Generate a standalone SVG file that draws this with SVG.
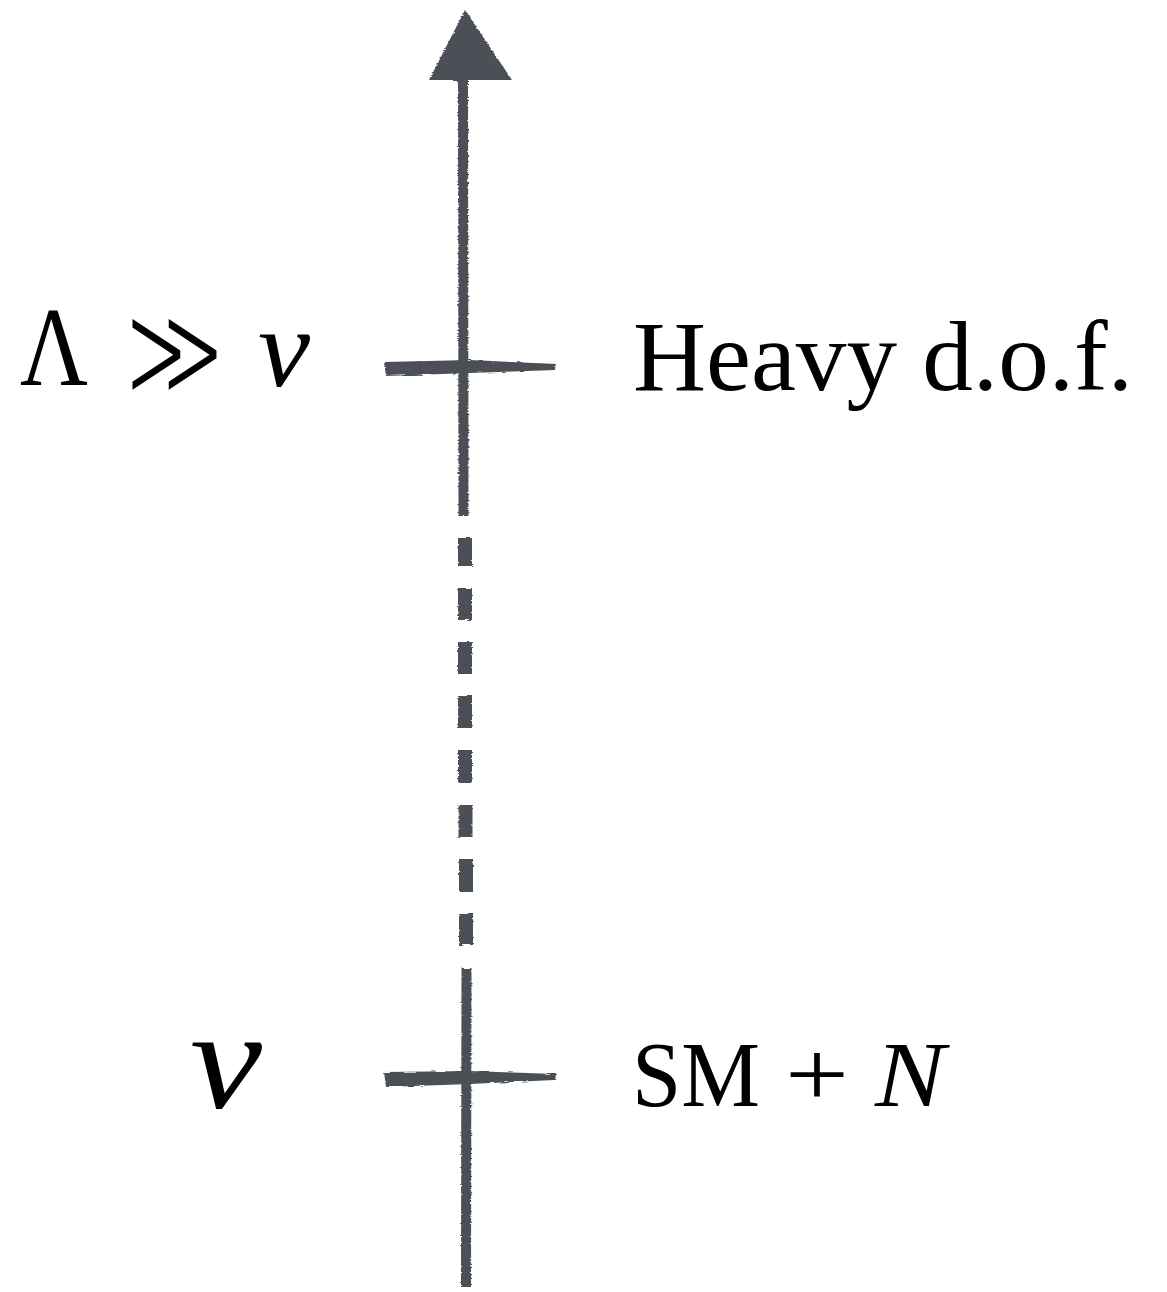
<svg xmlns="http://www.w3.org/2000/svg" width="1167" height="1292" viewBox="0 0 1167 1292">
  <style>
    .ink { fill: #4b5057; }
    .stk { stroke: #4b5057; fill: none; stroke-linecap: butt; }
    .rm { font-family: "Liberation Serif", "DejaVu Serif", serif; fill: #000; }
    .it { font-family: "Liberation Serif", "DejaVu Serif", serif; font-style: italic; fill: #000; }
    .rel { font-family: "DejaVu Serif", "DejaVu Sans", serif; fill: #000; stroke: #fff; stroke-width: 4; paint-order: fill; }
  </style>
  <defs>
    <filter id="rough" x="-20%" y="-5%" width="140%" height="110%">
      <feTurbulence type="fractalNoise" baseFrequency="0.08 0.9" numOctaves="2" seed="3" result="n"/>
      <feDisplacementMap in="SourceGraphic" in2="n" scale="3" xChannelSelector="R" yChannelSelector="G"/>
    </filter>
  </defs>
  <rect width="1167" height="1292" fill="#fff"/>

  <g id="connectors" filter="url(#rough)">
    <g id="axis">
      <polygon class="ink" points="465,10 512,80 429,80"/>
      <path class="stk" stroke-width="10" d="M463,78 L463.5,516"/>
      <path class="stk" stroke-width="14" d="M465,538 V566 M465,588 V620 M465,642 V674 M465,696 V728 M465,750 V783 M465.5,805 V837 M466,859 V892 M466,914 V945"/>
      <path class="stk" stroke-width="10" d="M466.5,968 L466,1287"/>
    </g>
  </g>

  <g id="tick-heavy" filter="url(#rough)">
    <path class="ink" d="M384,362 L470,360 L556,364 L555,370 L470,373 L386,376 Z"/>
  </g>
  <g id="tick-sm" filter="url(#rough)">
    <path class="ink" d="M384,1072 L470,1071 L556,1074 L555,1080 L470,1084 L386,1087 Z"/>
  </g>

  <g id="label-lambda">
    <text class="rm" x="20" y="385" font-size="113" textLength="68" lengthAdjust="spacingAndGlyphs">Λ</text>
    <text class="rel" x="124" y="396" font-size="132" textLength="101" lengthAdjust="spacingAndGlyphs">≫</text>
    <text class="it" x="258" y="386" font-size="112" textLength="52" lengthAdjust="spacingAndGlyphs">v</text>
  </g>
  <g id="label-heavy">
    <text class="rm" x="633" y="390" font-size="100" textLength="500" lengthAdjust="spacingAndGlyphs">Heavy d.o.f.</text>
  </g>
  <g id="label-v">
    <text class="it" x="190" y="1108" font-size="142" textLength="72" lengthAdjust="spacingAndGlyphs">v</text>
  </g>
  <g id="label-sm">
    <text class="rm" x="632" y="1106" font-size="93" textLength="128" lengthAdjust="spacingAndGlyphs">SM</text>
    <text class="rm" x="785" y="1106" font-size="93" textLength="64" lengthAdjust="spacingAndGlyphs">+</text>
    <text class="it" x="875" y="1106" font-size="93" textLength="70" lengthAdjust="spacingAndGlyphs">N</text>
  </g>
</svg>
